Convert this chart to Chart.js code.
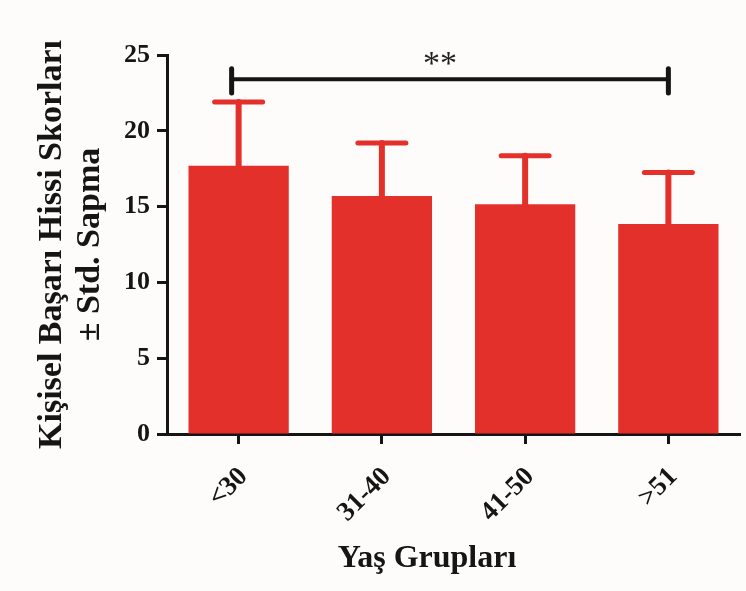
<!DOCTYPE html>
<html>
<head>
<meta charset="utf-8">
<script src="https://cdn.jsdelivr.net/npm/chart.js@4/dist/chart.umd.min.js"></script>
<style>
  html, body { margin: 0; padding: 0; background: #fdfcfa; }
  #wrap { width: 746px; height: 591px; }
</style>
</head>
<body>
<div id="wrap"><canvas id="c" width="746" height="591"></canvas></div>
<script>
// Age groups and mean scores with standard deviations
const categories = ['<30', '31-40', '41-50', '>51'];
const means = [17.7, 15.7, 15.15, 13.85];
const stdDevs = [4.2, 3.5, 3.2, 3.4];

// Y axis range
const yMin = 0;
const yMax = 25;
const yStep = 5;

// Significance bracket between the first and last group
const sigFrom = 0;
const sigTo = 3;
const sigLevel = 23.4;
const sigLabel = '**';

const yTitle = ['Kişisel Başarı Hissi Skorları', '± Std. Sapma'];
const xTitle = 'Yaş Grupları';

const INK = '#151515';
const BAR = '#e3302a';
const SERIF = '"Liberation Serif", "Times New Roman", serif';

// Upper error bars with caps
const errorBars = {
  id: 'errorBars',
  afterDatasetsDraw(chart) {
    const meta = chart.getDatasetMeta(0);
    const y = chart.scales.y;
    const ctx = chart.ctx;
    ctx.save();
    ctx.strokeStyle = BAR;
    ctx.lineCap = 'round';
    meta.data.forEach((bar, i) => {
      const x = bar.x;
      const yb = y.getPixelForValue(means[i]);
      const yt = y.getPixelForValue(means[i] + stdDevs[i]);
      ctx.lineWidth = 6;
      ctx.beginPath();
      ctx.moveTo(x, yb);
      ctx.lineTo(x, yt);
      ctx.stroke();
      ctx.lineWidth = 5;
      ctx.beginPath();
      ctx.moveTo(x - 24, yt);
      ctx.lineTo(x + 24, yt);
      ctx.stroke();
    });
    ctx.restore();
  }
};

// Significance bracket and x-axis title
const annotations = {
  id: 'annotations',
  afterDraw(chart) {
    const xs = chart.scales.x;
    const y = chart.scales.y;
    const ctx = chart.ctx;
    const x0 = xs.getPixelForValue(sigFrom) - 7;
    const x1 = xs.getPixelForValue(sigTo);
    const yl = y.getPixelForValue(sigLevel);
    ctx.save();
    ctx.strokeStyle = INK;
    ctx.lineWidth = 4;
    ctx.lineCap = 'round';
    ctx.beginPath();
    ctx.moveTo(x0, yl);
    ctx.lineTo(x1, yl);
    ctx.stroke();
    ctx.lineWidth = 5;
    [x0, x1].forEach(x => {
      ctx.beginPath();
      ctx.moveTo(x, y.getPixelForValue(sigLevel + 0.7));
      ctx.lineTo(x, y.getPixelForValue(sigLevel - 0.9));
      ctx.stroke();
    });
    ctx.fillStyle = '#222';
    ctx.font = '34px ' + SERIF;
    ctx.textAlign = 'center';
    ctx.textBaseline = 'alphabetic';
    ctx.fillText(sigLabel, (x0 + x1) / 2 - 10, yl - 5);

    ctx.fillStyle = INK;
    ctx.font = 'bold 32px ' + SERIF;
    ctx.textBaseline = 'alphabetic';
    ctx.fillText(xTitle, 427, 567);
    ctx.restore();
  }
};

const bg = {
  id: 'bg',
  beforeDraw(chart) {
    const ctx = chart.ctx;
    ctx.save();
    ctx.fillStyle = '#fdfcfa';
    ctx.fillRect(0, 0, chart.width, chart.height);
    ctx.restore();
  }
};

new Chart(document.getElementById('c'), {
  type: 'bar',
  data: {
    labels: categories,
    datasets: [{
      data: means,
      backgroundColor: BAR,
      borderWidth: 0,
      barPercentage: 0.7,
      categoryPercentage: 1.0
    }]
  },
  options: {
    responsive: false,
    devicePixelRatio: 1,
    animation: false,
    layout: { padding: { top: 55, right: 6, left: 0, bottom: 0 } },
    plugins: {
      legend: { display: false },
      tooltip: { enabled: false }
    },
    scales: {
      x: {
        afterFit(scale) { scale.height = 157; },
        grid: {
          offset: false,
          drawOnChartArea: false,
          drawTicks: true,
          tickLength: 10,
          tickWidth: 3,
          tickColor: INK
        },
        border: { display: true, width: 3, color: INK },
        ticks: {
          color: INK,
          minRotation: 45,
          maxRotation: 45,
          padding: 17,
          labelOffset: 5,
          font: { family: SERIF, size: 27, weight: 'bold' }
        }
      },
      y: {
        min: yMin,
        max: yMax,
        afterFit(scale) { scale.width = 167; },
        grid: {
          drawOnChartArea: false,
          drawTicks: true,
          tickLength: 10,
          tickWidth: 3,
          tickColor: INK
        },
        border: { display: true, width: 3, color: INK },
        ticks: {
          stepSize: yStep,
          color: INK,
          padding: 7,
          font: { family: SERIF, size: 26, weight: 'bold' }
        },
        title: {
          display: true,
          text: yTitle,
          color: INK,
          padding: { top: 33, bottom: 0 },
          font: { family: SERIF, size: 34, weight: 'bold', lineHeight: '38px' }
        }
      }
    }
  },
  plugins: [bg, errorBars, annotations]
});
</script>
</body>
</html>
